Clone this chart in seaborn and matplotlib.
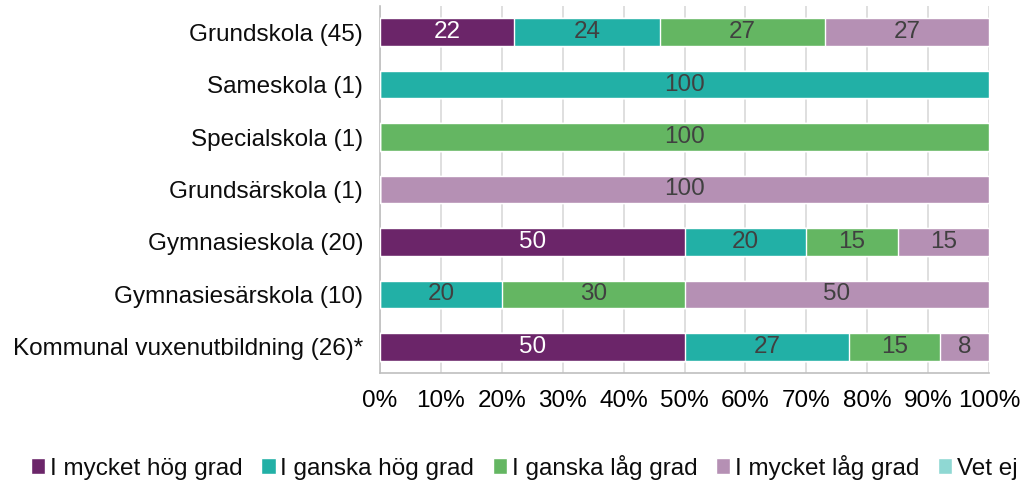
import pandas as pd
import matplotlib.pyplot as plt
import seaborn as sns

# Data: andel (%) per skolform
skolformer = ['Grundskola (45)', 'Sameskola (1)', 'Specialskola (1)', 'Grundsärskola (1)',
              'Gymnasieskola (20)', 'Gymnasiesärskola (10)', 'Kommunal vuxenutbildning (26)*']
mycket_hog = [22, 0, 0, 0, 50, 0, 50]
ganska_hog = [24, 100, 0, 0, 20, 20, 27]
ganska_lag = [27, 0, 100, 0, 15, 30, 15]
mycket_lag = [27, 0, 0, 100, 15, 50, 8]
vet_ej = [0, 0, 0, 0, 0, 0, 0]

serier = ['I mycket hög grad', 'I ganska hög grad', 'I ganska låg grad', 'I mycket låg grad', 'Vet ej']
farger = ['#6B2569', '#22B0A6', '#64B662', '#B590B4', '#8FD8D3']
textfarger = ['white', '#404040', '#404040', '#404040', '#404040']

df = pd.DataFrame({'Skolform': skolformer, serier[0]: mycket_hog, serier[1]: ganska_hog,
                   serier[2]: ganska_lag, serier[3]: mycket_lag, serier[4]: vet_ej})
kum = df[serier].cumsum(axis=1)

sns.set_style('white')
plt.rcParams['font.family'] = ['Liberation Sans', 'DejaVu Sans']

fig = plt.figure(figsize=(10.24, 4.84), dpi=100)
ax = fig.add_axes([0.371, 0.229, 0.595, 0.759])

# Staplade staplar: rita kumulativa summor bakifrån
for s, c in zip(serier[::-1], farger[::-1]):
    sns.barplot(x=kum[s], y=df['Skolform'], color=c, saturation=1, width=0.52,
                orient='h', ax=ax, zorder=3, label=s)

# Etiketter i mitten av varje segment
for s, tc in zip(serier, textfarger):
    for i, (v, k) in enumerate(zip(df[s], kum[s])):
        if v > 0:
            ax.text(k - v / 2, i, f'{v}', ha='center', va='center', color=tc, fontsize=17.5, zorder=4)

ax.set_xlim(0, 100)
ax.set_xticks(range(0, 101, 10))
ax.set_xticklabels([f'{t}%' for t in range(0, 101, 10)])
ax.set_xlabel('')
ax.set_ylabel('')
ax.tick_params(axis='x', labelsize=17.5, labelcolor='#000000', length=6, width=1, pad=6, color='#BFBFBF')
ax.tick_params(axis='y', labelsize=17.5, labelcolor='#0D0D0D', length=0, pad=12)
ax.grid(axis='x', color='#D9D9D9', linewidth=1.2, zorder=0)
for sp in ['top', 'right']:
    ax.spines[sp].set_visible(False)
for sp in ['left', 'bottom']:
    ax.spines[sp].set_color('#BFBFBF')
    ax.spines[sp].set_linewidth(1.2)

handles, labels = ax.get_legend_handles_labels()
if ax.get_legend() is not None:
    ax.get_legend().remove()
ordning = [labels.index(s) for s in serier]
fig.legend([handles[i] for i in ordning], serier, loc='center', bbox_to_anchor=(0.512, 0.035),
           ncol=5, frameon=False, fontsize=17.5, handlelength=0.6, handleheight=0.6,
           handletextpad=0.2, columnspacing=0.75, labelcolor='#0D0D0D')

fig.savefig('out.png', dpi=100)
